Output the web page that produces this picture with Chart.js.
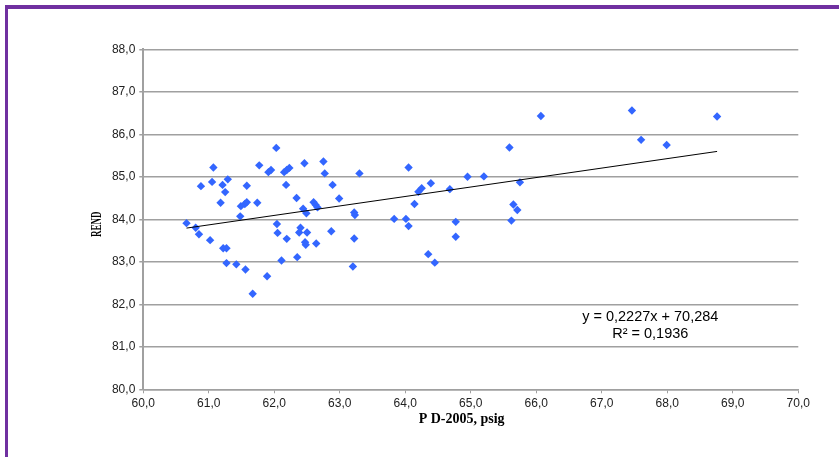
<!DOCTYPE html>
<html>
<head>
<meta charset="utf-8">
<script src="https://cdn.jsdelivr.net/npm/chart.js@4/dist/chart.umd.min.js"></script>
<style>
  html, body { margin: 0; padding: 0; background: #fff; }
  #wrap { position: relative; width: 839px; height: 457px; overflow: hidden; }
  #frameTop { position: absolute; left: 5px; top: 5px; width: 834px; height: 4px; background: #7030a0; }
  #frameLeft { position: absolute; left: 5px; top: 5px; width: 3px; height: 452px; background: #7030a0; }
  canvas { position: absolute; left: 0; top: 0; }
</style>
</head>
<body>
<div id="wrap">
  <canvas id="chart" width="839" height="457"></canvas>
  <div id="frameTop"></div>
  <div id="frameLeft"></div>
</div>
<script>
// pressure P D-2005 (psig) vs REND
const pressure = [
  60.66, 60.80, 60.85, 61.02, 60.88, 61.07, 61.05, 61.21, 61.25, 61.29,
  61.18, 61.22, 61.27, 61.27, 61.42, 61.56, 61.67, 61.89, 61.48, 61.49,
  61.55, 61.58, 61.58, 61.74, 61.77, 61.91, 61.95, 62.03, 62.15, 62.19,
  62.23, 62.18, 62.46, 62.34, 62.44, 62.04, 62.05, 62.19, 62.11, 62.35,
  62.40, 62.38, 62.47, 62.48, 62.50, 62.75, 62.77, 63.30, 62.89, 62.99,
  62.49, 62.60, 62.63, 62.66, 63.22, 63.23, 62.64, 62.87, 63.22, 63.20,
  63.83, 64.01, 64.05, 64.05, 64.14, 64.20, 64.25, 64.39, 64.68, 64.95,
  65.20, 65.59, 65.75, 64.77, 64.77, 65.65, 65.71, 65.62, 64.35, 64.45,
  66.07, 67.46, 67.60, 67.99, 68.76
];
const rend = [
  83.91, 83.80, 83.65, 83.51, 84.78, 85.22, 84.88, 84.81, 84.64, 84.94,
  84.39, 83.32, 83.32, 82.97, 82.94, 82.82, 82.25, 82.66, 84.07, 84.31,
  84.36, 84.40, 84.79, 84.39, 85.27, 85.11, 85.16, 85.68, 85.11, 85.16,
  85.21, 84.81, 85.32, 84.50, 84.25, 83.89, 83.68, 83.54, 83.03, 83.11,
  83.80, 83.69, 83.46, 83.40, 83.69, 85.36, 85.08, 85.08, 84.81, 84.49,
  84.14, 84.40, 84.34, 84.28, 84.16, 84.10, 83.43, 83.72, 83.55, 82.89,
  84.01, 84.01, 83.84, 85.22, 84.36, 84.65, 84.73, 84.85, 84.71, 85.00,
  85.01, 85.69, 84.87, 83.94, 83.59, 84.35, 84.22, 83.97, 83.18, 82.98,
  86.43, 86.56, 85.87, 85.75, 86.42
];

// linear trend as printed on the chart
const slope = 0.2227;
const intercept = 70.284;
const r2 = 0.1936;
const trendX = [60.66, 68.76];

const xTicks = [60, 61, 62, 63, 64, 65, 66, 67, 68, 69, 70];
const yTicks = [80, 81, 82, 83, 84, 85, 86, 87, 88];

const xTitle = 'P D-2005, psig';
const yTitle = 'REND';

const fmt = (v) => v.toFixed(1).replace('.', ',');
const dec = (v) => String(v).replace('.', ',');

const points = pressure.map((x, i) => ({ x: x, y: rend[i] }));
const trend = trendX.map((x) => ({ x: x, y: slope * x + intercept }));

// equation box and the two axis titles (the y one is squeezed like the original)
const textBits = {
  id: 'textBits',
  afterDraw(chart) {
    const { ctx, scales, chartArea } = chart;
    ctx.save();
    ctx.fillStyle = '#000';
    ctx.textAlign = 'center';
    ctx.textBaseline = 'middle';

    const cx = scales.x.getPixelForValue(67.74);
    const cy = scales.y.getPixelForValue(81.71);
    ctx.font = '14.5px "Liberation Sans", Arial, sans-serif';
    ctx.fillText('y = ' + dec(slope) + 'x + ' + dec(intercept), cx, cy);
    ctx.fillText('R\u00B2 = ' + dec(r2), cx, cy + 17.6);

    ctx.font = 'bold 14px "Liberation Serif", "Times New Roman", serif';
    ctx.fillText(xTitle, chartArea.left + (chartArea.right - chartArea.left) * 0.486, chartArea.bottom + 30);

    ctx.translate(97, (chartArea.top + chartArea.bottom) / 2 + 5);
    ctx.rotate(-Math.PI / 2);
    ctx.scale(0.6, 1);
    ctx.font = 'bold 15px "Liberation Serif", "Times New Roman", serif';
    ctx.fillText(yTitle, 0, 0);
    ctx.restore();
  }
};

new Chart(document.getElementById('chart').getContext('2d'), {
  type: 'scatter',
  data: {
    datasets: [
      {
        label: 'REND',
        data: points,
        pointStyle: 'rectRot',
        pointRadius: 4.2,
        backgroundColor: '#3366ff',
        borderColor: '#3366ff',
        borderWidth: 0,
        order: 1
      },
      {
        type: 'line',
        label: 'trend',
        data: trend,
        borderColor: '#000',
        borderWidth: 1,
        pointRadius: 0,
        fill: false,
        order: 0
      }
    ]
  },
  options: {
    responsive: false,
    animation: false,
    devicePixelRatio: 1,
    layout: { padding: { left: 86, top: 49.3, right: 40.7, bottom: 0 } },
    plugins: { legend: { display: false }, tooltip: { enabled: false } },
    scales: {
      x: {
        type: 'linear',
        min: 60, max: 70,
        afterBuildTicks: (s) => { s.ticks = xTicks.map((v) => ({ value: v })); },
        afterFit: (s) => { s.height = 67.7; },
        border: { color: '#a0a0a0', width: 1.5 },
        grid: { drawOnChartArea: false, drawTicks: true, tickLength: 4, color: '#a0a0a0', lineWidth: 1 },
        ticks: {
          padding: 3,
          color: '#222',
          font: { family: '"Liberation Sans", Arial, sans-serif', size: 12 },
          callback: (v) => fmt(v)
        }
      },
      y: {
        type: 'linear',
        min: 80, max: 88,
        afterBuildTicks: (s) => { s.ticks = yTicks.map((v) => ({ value: v })); },
        afterFit: (s) => { s.width = 57.3; },
        border: { color: '#a0a0a0', width: 2 },
        grid: { color: '#a0a0a0', lineWidth: 1.5, drawTicks: true, tickLength: 4 },
        ticks: {
          padding: 4,
          color: '#222',
          font: { family: '"Liberation Sans", Arial, sans-serif', size: 12 },
          callback: (v) => fmt(v)
        }
      }
    }
  },
  plugins: [textBits]
});
</script>
</body>
</html>
